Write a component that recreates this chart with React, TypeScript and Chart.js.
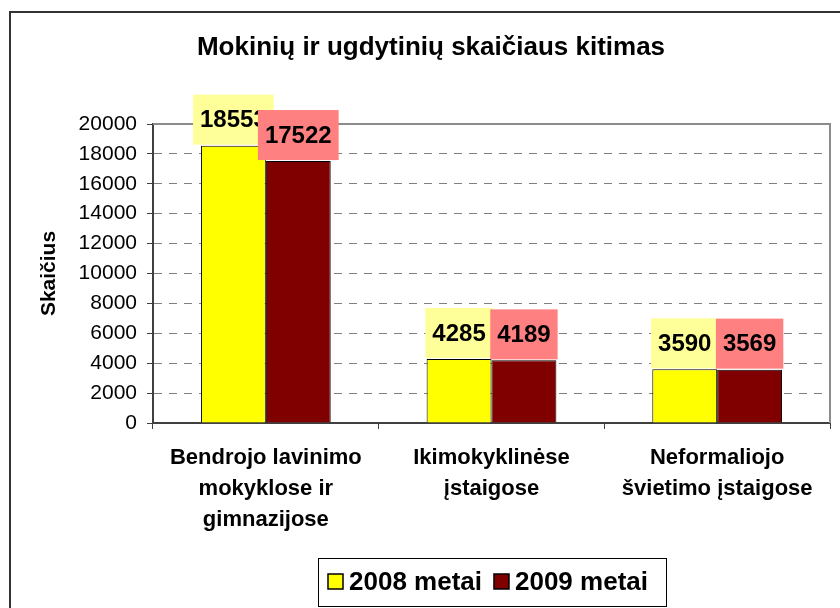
import React, { useEffect, useRef } from "react";
import { Chart, registerables } from "chart.js";

Chart.register(...registerables);

const titleText = "Mokinių ir ugdytinių skaičiaus kitimas";
const yAxisTitle = "Skaičius";
const categories = [
  ["Bendrojo lavinimo", "mokyklose ir", "gimnazijose"],
  ["Ikimokyklinėse", "įstaigose"],
  ["Neformaliojo", "švietimo įstaigose"],
];
const seriesNames = ["2008 metai", "2009 metai"];
const values2008 = [18553, 4285, 3590];
const values2009 = [17522, 4189, 3569];
const yMin = 0;
const yMax = 20000;
const yStep = 2000;

const FONT = '"Liberation Sans", Arial, sans-serif';
const barColors = ["#FFFF00", "#800000"];
const labelBg = ["#FFFF99", "#FF8080"];

const decorPlugin = {
  id: "decor",
  afterDatasetsDraw(chart: any) {
    const { ctx, chartArea: a } = chart;
    ctx.save();
    // plot frame top/right
    ctx.strokeStyle = "#8c8c8c";
    ctx.lineWidth = 2;
    ctx.beginPath();
    ctx.moveTo(a.left, a.top);
    ctx.lineTo(a.right, a.top);
    ctx.lineTo(a.right, a.bottom);
    ctx.stroke();
    // value labels
    ctx.font = `bold 24px ${FONT}`;
    ctx.textAlign = "center";
    ctx.textBaseline = "middle";
    chart.data.datasets.forEach((ds: any, i: number) => {
      const meta = chart.getDatasetMeta(i);
      meta.data.forEach((el: any, j: number) => {
        const txt = String(ds.data[j]);
        const w = ctx.measureText(txt).width + 14;
        const h = 50;
        const bottom = el.y - 1;
        ctx.fillStyle = labelBg[i];
        ctx.fillRect(el.x - w / 2, bottom - h, w, h);
        ctx.fillStyle = "#000";
        ctx.fillText(txt, el.x, bottom - h / 2 + 1);
      });
    });
    ctx.restore();
  },
  afterDraw(chart: any) {
    const { ctx, chartArea: a } = chart;
    ctx.save();
    // legend
    ctx.font = `bold 26px ${FONT}`;
    const names = chart.data.datasets.map((d: any) => d.label);
    const widths = names.map((n: string) => ctx.measureText(n).width);
    const sq = 15, padL = 10, gapSq = 6, gapItem = 12, padR = 18;
    const total = padL + sq + gapSq + widths[0] + gapItem + sq + gapSq + widths[1] + padR;
    const cx = (a.left + a.right) / 2;
    const left = Math.round(cx - total / 2);
    const top = Math.round(a.bottom + 135);
    const height = 48;
    ctx.fillStyle = "#fff";
    ctx.fillRect(left, top, total, height);
    ctx.strokeStyle = "#000";
    ctx.lineWidth = 1;
    ctx.strokeRect(left + 0.5, top + 0.5, Math.round(total), height);
    let x = left + padL;
    const midY = top + height / 2;
    ctx.textAlign = "left";
    ctx.textBaseline = "middle";
    names.forEach((n: string, i: number) => {
      ctx.fillStyle = barColors[i];
      ctx.fillRect(x, midY - 8, sq, sq);
      ctx.strokeStyle = "#000";
      ctx.lineWidth = 1.5;
      ctx.strokeRect(x, midY - 8, sq, sq);
      x += sq + gapSq;
      ctx.fillStyle = "#000";
      ctx.fillText(n, x, midY + 1);
      x += widths[i] + gapItem;
    });
    // outer border
    ctx.strokeStyle = "#333";
    ctx.lineWidth = 2;
    ctx.strokeRect(10, 12, 1000, 1000);
    ctx.restore();
  },
};

export default function App() {
  const ref = useRef<HTMLCanvasElement | null>(null);
  useEffect(() => {
    if (!ref.current) return;
    const chart = new Chart(ref.current, {
      type: "bar",
      data: {
        labels: categories as any,
        datasets: [
          {
            label: seriesNames[0],
            data: values2008,
            backgroundColor: barColors[0],
            borderColor: "#000",
            borderWidth: 1,
            categoryPercentage: 0.575,
            barPercentage: 1,
          },
          {
            label: seriesNames[1],
            data: values2009,
            backgroundColor: barColors[1],
            borderColor: "#000",
            borderWidth: 1,
            categoryPercentage: 0.575,
            barPercentage: 1,
          },
        ],
      },
      options: {
        responsive: false,
        animation: false,
        layout: { padding: { left: 32, right: 10, top: 0, bottom: 0 } },
        plugins: {
          legend: { display: false },
          tooltip: { enabled: false },
          title: {
            display: true,
            text: titleText,
            color: "#000",
            font: { family: FONT, size: 26, weight: "bold", lineHeight: 1.2 },
            padding: { top: 32, bottom: 60.8 },
          },
        },
        scales: {
          x: {
            grid: {
              display: true,
              drawOnChartArea: false,
              drawTicks: true,
              tickLength: 6,
              tickColor: "#404040",
              offset: true,
            },
            border: { display: true, color: "#404040", width: 2 },
            ticks: {
              color: "#000",
              font: { family: FONT, size: 22, weight: "bold", lineHeight: 31 / 22 },
              padding: 13,
              maxRotation: 0,
              minRotation: 0,
              autoSkip: false,
            },
            afterFit: (s: any) => {
              s.height = 185;
            },
          },
          y: {
            min: yMin,
            max: yMax,
            ticks: {
              stepSize: yStep,
              color: "#000",
              font: { family: FONT, size: 21 },
              padding: 10,
              callback: (v: any) => String(v),
            },
            grid: {
              color: (c: any) => (c.tick && c.tick.value === 0 ? "rgba(0,0,0,0)" : "#808080"),
              lineWidth: 1,
              tickLength: 6,
              tickColor: "#404040",
              drawTicks: true,
            },
            border: { display: true, color: "#404040", width: 2, dash: [8, 7] },
            title: {
              display: true,
              text: yAxisTitle,
              color: "#000",
              font: { family: FONT, size: 21, weight: "bold", lineHeight: 1.2 },
              padding: { top: 5, bottom: 0 },
            },
            afterFit: (s: any) => {
              s.width = 121;
            },
          },
        },
      } as any,
      plugins: [decorPlugin],
    });
    return () => chart.destroy();
  }, []);
  return (
    <div style={{ position: "absolute", left: 0, top: 0, width: 840, height: 608, background: "#fff" }}>
      <canvas ref={ref} width={840} height={608} style={{ display: "block" }} />
    </div>
  );
}
